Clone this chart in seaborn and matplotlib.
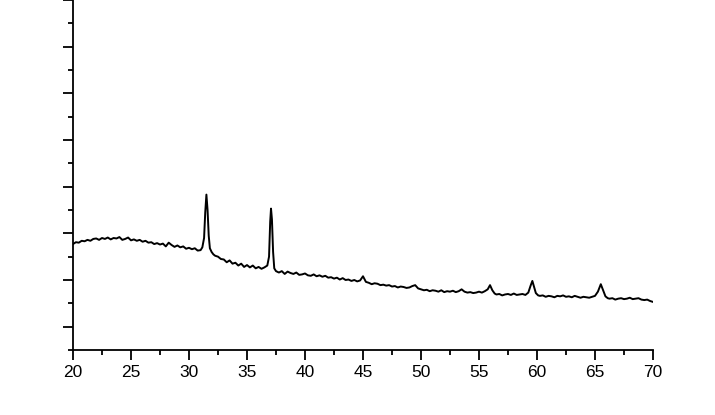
import matplotlib
matplotlib.use("Agg")
import matplotlib.pyplot as plt
import seaborn as sns
import pandas as pd
from matplotlib.ticker import MultipleLocator, NullFormatter

two_theta = [
    20.0, 20.25, 20.5, 20.75, 21.0, 21.25, 21.5, 21.75, 22.0, 22.25, 22.5, 22.75,
    23.0, 23.25, 23.5, 23.75, 24.0, 24.25, 24.5, 24.75, 25.0, 25.25, 25.5, 25.75,
    26.0, 26.25, 26.5, 26.75, 27.0, 27.25, 27.5, 27.75, 28.0, 28.25, 28.5, 28.75,
    29.0, 29.25, 29.5, 29.75, 30.0, 30.25, 30.5, 30.75, 31.0, 31.15, 31.3, 31.4,
    31.5, 31.6, 31.7, 31.8, 31.95, 32.1, 32.25, 32.5, 32.75, 33.0, 33.25, 33.5,
    33.75, 34.0, 34.25, 34.5, 34.75, 35.0, 35.25, 35.5, 35.75, 36.0, 36.25, 36.5,
    36.75, 36.9, 37.0, 37.07, 37.15, 37.25, 37.35, 37.5, 37.75, 38.0, 38.25, 38.5,
    38.75, 39.0, 39.25, 39.5, 39.75, 40.0, 40.25, 40.5, 40.75, 41.0, 41.25, 41.5,
    41.75, 42.0, 42.25, 42.5, 42.75, 43.0, 43.25, 43.5, 43.75, 44.0, 44.25, 44.5,
    44.75, 45.0, 45.25, 45.5, 45.75, 46.0, 46.25, 46.5, 46.75, 47.0, 47.25, 47.5,
    47.75, 48.0, 48.25, 48.5, 48.75, 49.0, 49.25, 49.5, 49.75, 50.0, 50.25, 50.5,
    50.75, 51.0, 51.25, 51.5, 51.75, 52.0, 52.25, 52.5, 52.75, 53.0, 53.25, 53.5,
    53.75, 54.0, 54.25, 54.5, 54.75, 55.0, 55.25, 55.5, 55.75, 55.95, 56.15, 56.35,
    56.5, 56.75, 57.0, 57.25, 57.5, 57.75, 58.0, 58.25, 58.5, 58.75, 59.0, 59.25,
    59.45, 59.6, 59.75, 59.9, 60.1, 60.25, 60.5, 60.75, 61.0, 61.25, 61.5, 61.75,
    62.0, 62.25, 62.5, 62.75, 63.0, 63.25, 63.5, 63.75, 64.0, 64.25, 64.5, 64.75,
    65.0, 65.25, 65.5, 65.7, 65.9, 66.1, 66.25, 66.5, 66.75, 67.0, 67.25, 67.5,
    67.75, 68.0, 68.25, 68.5, 68.75, 69.0, 69.25, 69.5, 69.75, 70.0,
]
intensity = [
    177, 181, 180, 184, 183, 186, 184, 188, 189, 186, 190, 188,
    191, 187, 190, 189, 192, 186, 188, 191, 185, 187, 184, 186,
    182, 184, 180, 181, 177, 179, 176, 178, 172, 180, 175, 171,
    174, 170, 172, 167, 169, 166, 168, 163, 164, 170, 190, 245,
    283, 250, 195, 168, 160, 155, 152, 150, 145, 144, 138, 142,
    135, 137, 131, 135, 128, 132, 127, 131, 125, 128, 124, 127,
    131, 150, 225, 253, 230, 160, 125, 119, 116, 119, 113, 118,
    115, 113, 116, 111, 112, 114, 110, 109, 112, 108, 110, 107,
    109, 105, 106, 103, 105, 101, 104, 100, 101, 98, 100, 97,
    99, 108, 96, 94, 91, 93, 92, 89, 90, 88, 89, 86,
    87, 84, 86, 85, 83, 84, 87, 89, 82, 80, 78, 79,
    76, 78, 77, 75, 78, 74, 76, 75, 77, 74, 76, 80,
    75, 73, 74, 72, 73, 75, 73, 76, 80, 89, 78, 71,
    69, 70, 67, 69, 70, 68, 71, 68, 69, 70, 68, 73,
    88, 98, 85, 72, 67, 66, 67, 64, 66, 65, 63, 66,
    65, 67, 64, 65, 63, 66, 64, 62, 64, 63, 62, 64,
    66, 75, 91, 78, 65, 61, 60, 61, 58, 60, 61, 59,
    60, 62, 59, 60, 61, 58, 57, 58, 55, 53,
]
x_ticks = [20, 25, 30, 35, 40, 45, 50, 55, 60, 65, 70]

df = pd.DataFrame({"two_theta": two_theta, "intensity": intensity})

sns.set_style("ticks")
plt.rcParams["font.family"] = ["Liberation Sans", "DejaVu Sans"]

fig = plt.figure(figsize=(7.15, 4.15), dpi=100)
ax = fig.add_axes([73 / 715, 1 - 350 / 415, 580 / 715, 350 / 415])
sns.lineplot(data=df, x="two_theta", y="intensity", ax=ax, color="black",
             linewidth=1.4, sort=False)

ax.set_xlim(20, 70)
ax.set_ylim(-50, 700)
ax.set_xticks(x_ticks)
ax.set_xticklabels([str(t) for t in x_ticks], fontsize=12.5)
ax.xaxis.set_minor_locator(MultipleLocator(2.5))
ax.yaxis.set_major_locator(MultipleLocator(100))
ax.yaxis.set_minor_locator(MultipleLocator(50))
ax.yaxis.set_major_formatter(NullFormatter())
ax.set_xlabel("")
ax.set_ylabel("")
for side in ["top", "right"]:
    ax.spines[side].set_visible(False)
for side in ["left", "bottom"]:
    ax.spines[side].set_linewidth(1.3)
    ax.spines[side].set_color("black")
ax.tick_params(which="major", direction="out", length=7, width=1.3, color="black",
               labelcolor="black", pad=4)
ax.tick_params(which="minor", direction="out", length=3.5, width=1.3, color="black")

fig.savefig("out.png", dpi=100)
